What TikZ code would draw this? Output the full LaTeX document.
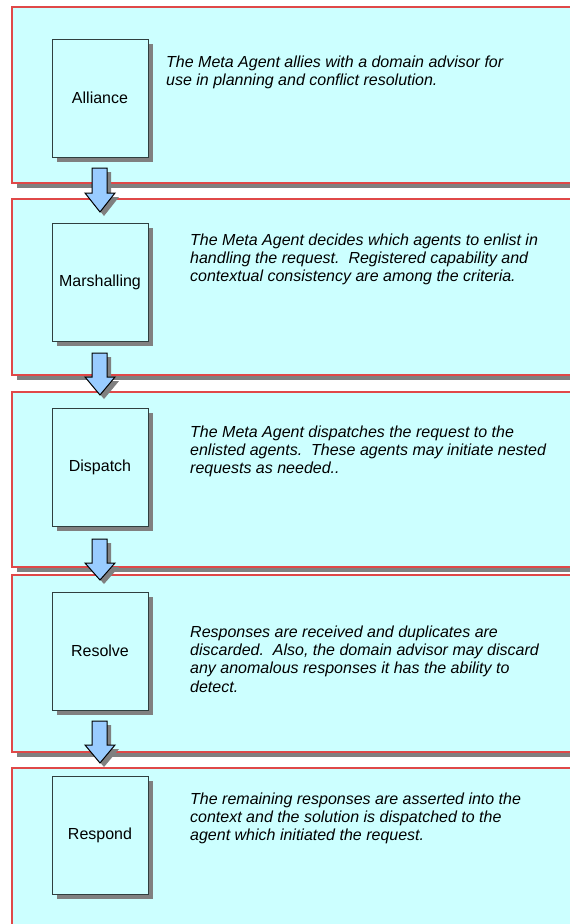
\documentclass[tikz,border=0pt]{standalone}
\usepackage{fontspec}
\setmainfont{Liberation Sans}
\definecolor{panelfill}{HTML}{CCFFFF}
\definecolor{panelline}{HTML}{E04848}
\definecolor{shadowgray}{HTML}{808080}
\definecolor{arrowfill}{HTML}{99CCFF}
\definecolor{boxline}{HTML}{2F3F3F}
\tikzset{
  panel/.style={fill=panelfill, draw=panelline, line width=1.2pt},
  stagebox/.style={draw=boxline, fill=panelfill, line width=1pt, minimum width=96pt, minimum height=118pt, inner sep=0pt, font=\fontsize{16}{18.4}\selectfont},
  desc/.style={anchor=base west, align=left, inner sep=0pt, font=\fontsize{16}{18.4}\selectfont\itshape},
  blockarrow/.style={fill=arrowfill, draw=black, line width=1pt, line join=miter},
  shade/.style={fill=shadowgray},
}
\newcommand\mypanel[3]{% name, top, bottom
  \fill[shade] (17,#2+5) rectangle (640,#3+5);
  \filldraw[panel] (12,#2) rectangle (640,#3);
  \coordinate (#1) at (12,#2);
}
\newcommand\mybox[3]{% name, center y, label
  \fill[shade] (56.5,#2-54.5) rectangle (152.5,#2+63.5);
  \node[stagebox] (#1) at (100,#2) {#3};
}
\newcommand\myarrow[4]{% name, top, head start, tip
  \fill[shade] (96,#2+4) -- (111,#2+4) -- (111,#3+4) -- (119,#3+4) -- (104,#4+4) -- (89,#3+4) -- (96,#3+4) -- cycle;
  \filldraw[blockarrow] (92,#2) -- (107,#2) -- (107,#3) -- (115,#3) -- (100,#4) -- (85,#3) -- (92,#3) -- cycle;
  \coordinate (#1) at (100,#4);
}
\begin{document}
\begin{tikzpicture}[x=1pt,y=-1pt]
\clip (0,0) rectangle (570,924);
\fill[white] (0,0) rectangle (570,924);

\mypanel{p1}{7}{183}
\mypanel{p2}{199}{375}
\mypanel{p3}{392}{567}
\mypanel{p4}{575}{752}
\mypanel{p5}{768}{980}

\mybox{b1}{98}{Alliance}
\mybox{b2}{282}{Marshalling}
\mybox{b3}{467}{Dispatch}
\mybox{b4}{651}{Resolve}
\mybox{b5}{835}{Respond}

\node[desc] (t1) at (166,85.4) {The Meta Agent allies with a domain advisor for\\use in planning and conflict resolution.};
\node[desc] (t2) at (190,281.8) {The Meta Agent decides which agents to enlist in\\handling the request.\ \ Registered capability and\\contextual consistency are among the criteria.};
\node[desc] (t3) at (190,473.8) {The Meta Agent dispatches the request to the\\enlisted agents.\ \ These agents may initiate nested\\requests as needed..};
\node[desc] (t4) at (190,692.2) {Responses are received and duplicates are\\discarded.\ \ Also, the domain advisor may discard\\any anomalous responses it has the ability to\\detect.};
\node[desc] (t5) at (190,840.8) {The remaining responses are asserted into the\\context and the solution is dispatched to the\\agent which initiated the request.};

\myarrow{a1}{168}{193}{212}
\myarrow{a2}{353}{377}{395}
\myarrow{a3}{539}{563}{580}
\myarrow{a4}{721}{745}{763}
\end{tikzpicture}
\end{document}
